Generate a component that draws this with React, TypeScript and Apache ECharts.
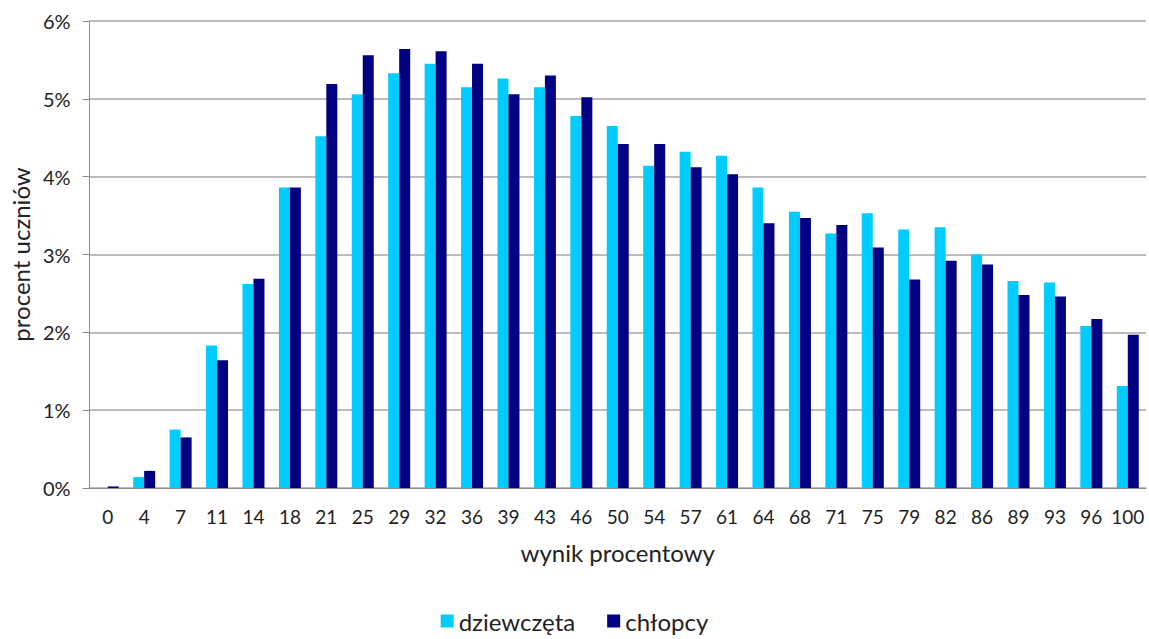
import React, { useEffect, useRef } from "react";
import * as echarts from "echarts";

const categories = ["0","4","7","11","14","18","21","25","29","32","36","39","43","46","50","54","57","61","64","68","71","75","79","82","86","89","93","96","100"];
const girls = [0, 0.14, 0.75, 1.83, 2.62, 3.86, 4.52, 5.06, 5.33, 5.45, 5.15, 5.26, 5.15, 4.78, 4.65, 4.14, 4.32, 4.27, 3.86, 3.55, 3.27, 3.53, 3.32, 3.35, 3.0, 2.66, 2.64, 2.08, 1.31];
const boys = [0.02, 0.22, 0.65, 1.64, 2.69, 3.86, 5.19, 5.56, 5.64, 5.61, 5.45, 5.06, 5.30, 5.02, 4.42, 4.42, 4.12, 4.03, 3.40, 3.47, 3.38, 3.09, 2.68, 2.92, 2.87, 2.48, 2.46, 2.17, 1.97];
const seriesNames = ["dziewczęta", "chłopcy"];

const FONT = "Lato, 'Open Sans', sans-serif";

export default function App() {
  const ref = useRef<HTMLDivElement>(null);
  useEffect(() => {
    if (!ref.current) return;
    const chart = echarts.init(ref.current, undefined, { renderer: "svg" });
    chart.setOption({
      animation: false,
      textStyle: { fontFamily: FONT },
      grid: { left: 87, right: 3, top: 21, bottom: 151 },
      legend: {
        bottom: 1,
        left: "center",
        itemWidth: 13,
        itemHeight: 13,
        itemGap: 32,
        icon: "rect",
        textStyle: { fontSize: 24, color: "#222", fontFamily: FONT },
        data: seriesNames,
      },
      xAxis: {
        type: "category",
        data: categories,
        name: "wynik procentowy",
        nameLocation: "middle",
        nameGap: 52,
        nameTextStyle: { fontSize: 24, color: "#222", fontFamily: FONT },
        axisLine: { lineStyle: { color: "#8c8c8c", width: 1 } },
        axisTick: { show: false },
        axisLabel: { fontSize: 19, color: "#222", margin: 19, interval: 0, fontFamily: FONT },
      },
      yAxis: {
        type: "value",
        min: 0,
        max: 6,
        interval: 1,
        name: "procent uczniów",
        nameLocation: "middle",
        nameGap: 53,
        nameTextStyle: { fontSize: 24, color: "#222", fontFamily: FONT },
        axisLine: { show: true, lineStyle: { color: "#8c8c8c", width: 1 } },
        axisTick: { show: true, length: 7, lineStyle: { color: "#8c8c8c" } },
        axisLabel: { fontSize: 20, color: "#222", margin: 19, formatter: "{value}%", fontFamily: FONT },
        splitLine: { lineStyle: { color: "#a6a6a6", width: 1.5 } },
      },
      series: [
        {
          name: seriesNames[0],
          type: "bar",
          data: girls,
          barWidth: 11,
          barGap: "0%",
          itemStyle: { color: "#00CCFF" },
        },
        {
          name: seriesNames[1],
          type: "bar",
          data: boys,
          barWidth: 11,
          barGap: "0%",
          itemStyle: { color: "#000080" },
        },
      ],
    });
    return () => chart.dispose();
  }, []);
  return <div ref={ref} style={{ width: 1149, height: 639, position: "absolute", left: 0, top: 0 }} />;
}
